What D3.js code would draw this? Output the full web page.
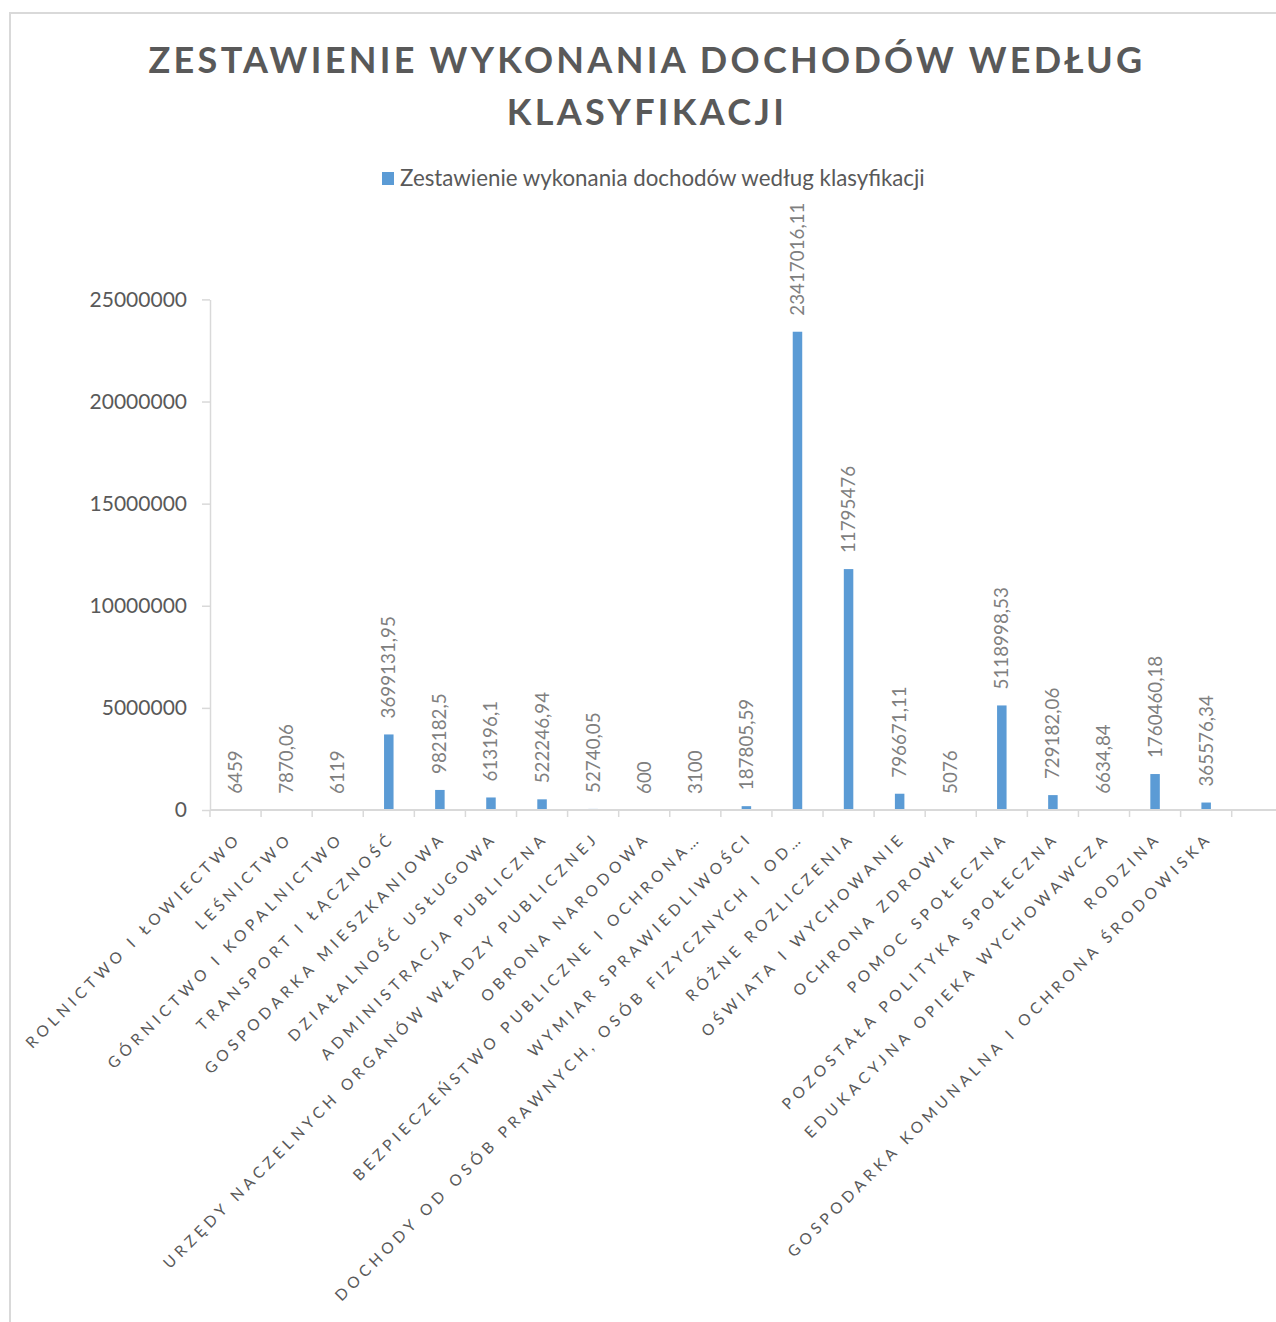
<!DOCTYPE html>
<html>
<head>
<meta charset="utf-8">
<script src="https://cdn.jsdelivr.net/npm/d3@7"></script>
<style>
  html, body { margin: 0; padding: 0; background: #fff; }
  svg { display: block; font-family: Lato, "Open Sans", sans-serif; }
</style>
</head>
<body>
<svg id="chart" width="1276" height="1322"></svg>
<script>
// data
const titleLines = ['ZESTAWIENIE WYKONANIA DOCHODÓW WEDŁUG', 'KLASYFIKACJI'];
const seriesName = 'Zestawienie wykonania dochodów według klasyfikacji';
const categories = [
	'ROLNICTWO I ŁOWIECTWO',
	'LEŚNICTWO',
	'GÓRNICTWO I KOPALNICTWO',
	'TRANSPORT I ŁĄCZNOŚĆ',
	'GOSPODARKA MIESZKANIOWA',
	'DZIAŁALNOŚĆ USŁUGOWA',
	'ADMINISTRACJA PUBLICZNA',
	'URZĘDY NACZELNYCH ORGANÓW WŁADZY PUBLICZNEJ',
	'OBRONA NARODOWA',
	'BEZPIECZEŃSTWO PUBLICZNE I OCHRONA…',
	'WYMIAR SPRAWIEDLIWOŚCI',
	'DOCHODY OD OSÓB PRAWNYCH, OSÓB FIZYCZNYCH I OD…',
	'RÓŻNE ROZLICZENIA',
	'OŚWIATA I WYCHOWANIE',
	'OCHRONA ZDROWIA',
	'POMOC SPOŁECZNA',
	'POZOSTAŁA POLITYKA SPOŁECZNA',
	'EDUKACYJNA OPIEKA WYCHOWAWCZA',
	'RODZINA',
	'GOSPODARKA KOMUNALNA I OCHRONA ŚRODOWISKA'
];
const values = [
	6459, 7870.06, 6119, 3699131.95, 982182.5, 613196.1, 522246.94, 52740.05,
	600, 3100, 187805.59, 23417016.11, 11795476, 796671.11, 5076, 5118998.53,
	729182.06, 6634.84, 1760460.18, 365576.34
];
const yTicks = [0, 5000000, 10000000, 15000000, 20000000, 25000000];

const data = categories.map((c,i)=>({name:c, value:values[i]}));

const svg = d3.select('#chart');
const textColor = '#595959';
const lineColor = '#d9d9d9';
const barColor = '#5b9bd5';

//frame of the chart area (cropped on the right and bottom)
svg.append('path')
	.attr('d','M10,1322V13H1276')
	.style('fill','none')
	.style('stroke',lineColor)
	.style('stroke-width',2);

//title
svg.append('g').attr('class','title')
	.selectAll('text')
	.data(titleLines)
	.enter()
	.append('text')
	.attr('x',647)
	.attr('y',(d,i)=>73 + i*52)
	.attr('text-anchor','middle')
	.style('font-weight','bold')
	.style('font-size','36px')
	.style('letter-spacing','3.3px')
	.style('fill',textColor)
	.text(d=>d);

//legend
const legend = svg.append('g').attr('class','legend');
legend.append('rect')
	.attr('x',382).attr('y',172)
	.attr('width',12).attr('height',13)
	.style('fill',barColor);
legend.append('text')
	.attr('x',400).attr('y',186)
	.style('font-size','22.3px')
	.style('fill',textColor)
	.text(seriesName);

//scales
const x = d3.scaleBand()
	.domain(categories)
	.range([210,1231.7])
	.padding(0);
const y = d3.scaleLinear()
	.domain([0,25000000])
	.range([810,299.4]);
const barW = 9.5;

//y axis
const yAxis = svg.append('g')
	.attr('class','y-axis')
	.attr('transform','translate(210,0)')
	.call(d3.axisLeft(y).tickValues(yTicks).tickFormat(d3.format('d')).tickSize(8).tickSizeOuter(0).tickPadding(15));
yAxis.select('.domain').style('stroke',lineColor).style('stroke-width',1.5);
yAxis.selectAll('.tick line').style('stroke',lineColor).style('stroke-width',1.5);
yAxis.selectAll('.tick text')
	.style('font-size','21px')
	.style('font-family','Lato, "Open Sans", sans-serif')
	.style('fill',textColor);

//bars
svg.append('g').attr('class','bars')
	.selectAll('.bar')
	.data(data)
	.enter()
	.append('rect').attr('class','bar')
	.attr('x',d=>x(d.name) + x.bandwidth()/2 - barW/2)
	.attr('width',barW)
	.attr('y',d=>y(d.value))
	.attr('height',d=>y(0) - y(d.value))
	.style('fill',barColor);

//data labels, rotated
svg.append('g').attr('class','labels')
	.selectAll('text')
	.data(data)
	.enter()
	.append('text')
	.attr('transform',d=>`translate(${x(d.name) + x.bandwidth()/2 + 6.5},${y(d.value) - 16}) rotate(-90)`)
	.style('font-size','18.8px')
	.style('fill','#7f7f7f')
	.text(d=>String(d.value).replace('.',','));

//x axis baseline and boundary ticks
const xAxis = svg.append('g').attr('class','x-axis');
xAxis.append('line')
	.attr('x1',210).attr('x2',1276)
	.attr('y1',y(0)).attr('y2',y(0))
	.style('stroke',lineColor)
	.style('stroke-width',2);
const bounds = categories.map(c=>x(c)).concat([x.range()[1]]);
xAxis.selectAll('.tick')
	.data(bounds)
	.enter()
	.append('line').attr('class','tick')
	.attr('x1',d=>d).attr('x2',d=>d)
	.attr('y1',y(0)).attr('y2',y(0) + 7)
	.style('stroke',lineColor)
	.style('stroke-width',1.5);

//category labels at 45 degrees
xAxis.selectAll('.cat')
	.data(categories)
	.enter()
	.append('text').attr('class','cat')
	.attr('transform',d=>`translate(${x(d) + x.bandwidth()/2 + 7},${y(0) + 29}) rotate(-45)`)
	.attr('text-anchor','end')
	.style('font-size','15.5px')
	.style('letter-spacing','4.5px')
	.style('fill',textColor)
	.text(d=>d);
</script>
</body>
</html>
